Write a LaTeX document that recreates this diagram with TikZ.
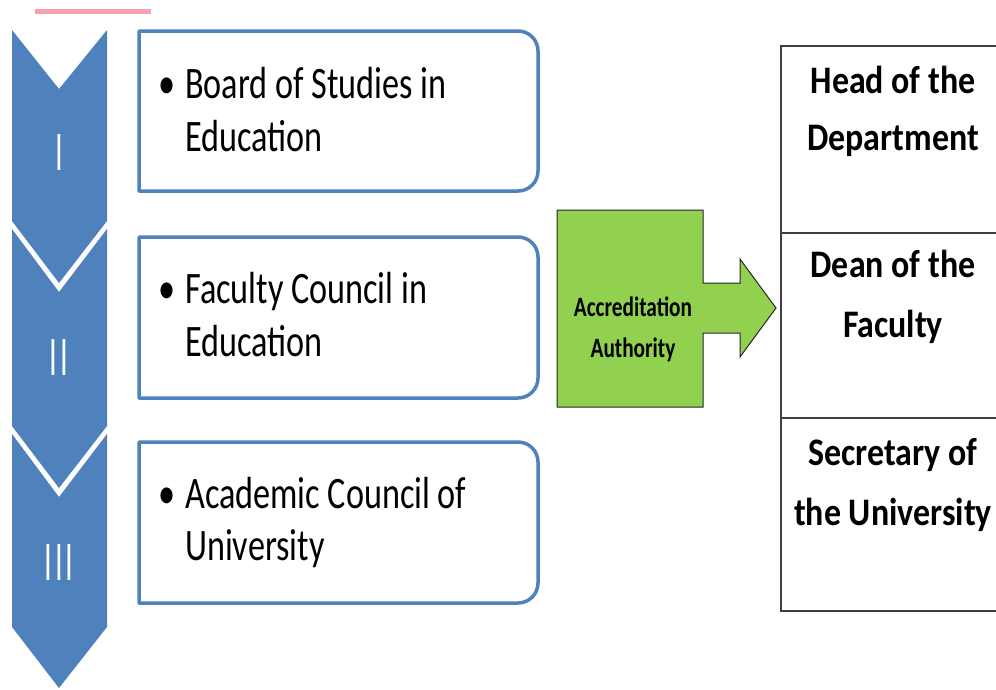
\documentclass[tikz,border=0pt]{standalone}
\usepackage{fontspec}
\setmainfont{Carlito}
% condensed cuts of Carlito used for the various labels
\newfontfamily\itemfont[FakeStretch=0.76]{Carlito}
\newfontfamily\rolefont[FakeStretch=0.87]{Carlito}
\newfontfamily\accfont[FakeStretch=0.76]{Carlito}
\newfontfamily\numfont[FakeStretch=0.55,LetterSpace=5]{Carlito}

\definecolor{chevblue}{HTML}{4F81BD}
\definecolor{accgreen}{HTML}{92D050}
\definecolor{pinkbar}{HTML}{F4A3AE}
\definecolor{rulegray}{HTML}{404040}

\begin{document}
\begin{tikzpicture}[x=1pt,y=-1pt,
  chevron/.style={fill=chevblue, draw=none},
  listbox/.style={draw=chevblue, line width=3.5pt, fill=white, line join=round},
  itemtext/.style={font=\itemfont\fontsize{45}{54}\selectfont, anchor=base west, inner sep=0pt},
  bulletmark/.style={font=\itemfont\fontsize{45}{54}\selectfont, anchor=base, inner sep=0pt},
  numeral/.style={font=\numfont\fontsize{56}{64}\selectfont, text=white, inner sep=0pt},
  roletext/.style={font=\rolefont\bfseries\fontsize{39}{47}\selectfont, anchor=base, inner sep=0pt},
  acctext/.style={font=\accfont\bfseries\fontsize{28}{34}\selectfont, anchor=base, inner sep=0pt},
  arrowshape/.style={fill=accgreen, draw=black!85, line width=1pt, line join=miter},
  tablerule/.style={draw=rulegray, line width=1.5pt}
]
\useasboundingbox (0,0) rectangle (996,689);

% pink accent bar
\draw[pinkbar, line width=5pt] (35,11) -- (151,11);

% chevron column
\fill[chevron] (12,30) -- (59,89) -- (107,30) -- (107,221) -- (59,283) -- (12,221) -- cycle;
\fill[chevron] (12,229) -- (59,292) -- (107,229) -- (107,426) -- (59,488) -- (12,426) -- cycle;
\fill[chevron] (12,434) -- (59,497) -- (107,434) -- (107,627) -- (59,688) -- (12,627) -- cycle;
\node[numeral] (n1) at (59,153) {I};
\node[numeral] (n2) at (59,358) {II};
\node[numeral] (n3) at (59,563) {III};

% list boxes, rounded on the right-hand side only
\draw[listbox] (139,31) -- (518,31) arc (-90:0:20) -- (538,171) arc (0:90:20) -- (139,191) -- cycle;
\draw[listbox] (139,237) -- (518,237) arc (-90:0:20) -- (538,378) arc (0:90:20) -- (139,398) -- cycle;
\draw[listbox] (139,442) -- (518,442) arc (-90:0:20) -- (538,583) arc (0:90:20) -- (139,603) -- cycle;

\node[bulletmark] (d1) at (167,98) {•};
\node[itemtext] (t1a) at (185,98) {Board of Studies in};
\node[itemtext] (t1b) at (185,151) {Education};

\node[bulletmark] (d2) at (167,303) {•};
\node[itemtext] (t2a) at (185,303) {Faculty Council in};
\node[itemtext] (t2b) at (185,356) {Education};

\node[bulletmark] (d3) at (167,508) {•};
\node[itemtext] (t3a) at (185,508) {Academic Council of};
\node[itemtext] (t3b) at (185,560) {University};

% accreditation block arrow
\draw[arrowshape] (557,210) -- (703,210) -- (703,283) -- (740,283) -- (740,259) -- (776,308)
  -- (740,357) -- (740,333) -- (703,333) -- (703,407) -- (557,407) -- cycle;
\node[acctext] (a1) at (633,316) {Accreditation};
\node[acctext] (a2) at (633,357) {Authority};

% table of officials
\draw[tablerule] (1000,46) -- (781,46) -- (781,611) -- (1000,611);
\draw[tablerule] (781,233) -- (1000,233);
\draw[tablerule] (781,418) -- (1000,418);

\node[roletext] (r1a) at (893,93) {Head of the};
\node[roletext] (r1b) at (893,150) {Department};
\node[roletext] (r2a) at (893,277) {Dean of the};
\node[roletext] (r2b) at (893,337) {Faculty};
\node[roletext] (r3a) at (893,465) {Secretary of};
\node[roletext] (r3b) at (893,525) {the University};
\end{tikzpicture}
\end{document}
